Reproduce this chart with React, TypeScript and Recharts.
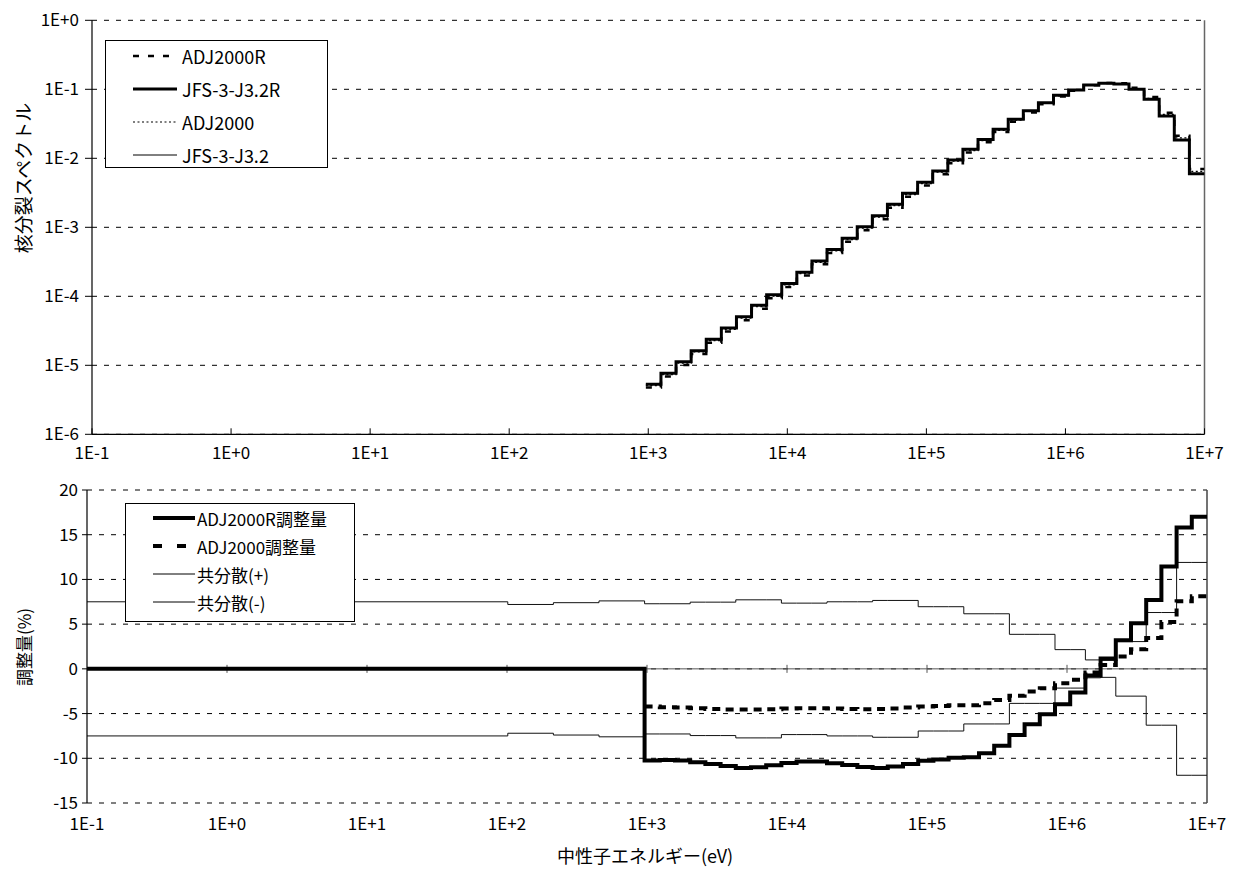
import React from 'react';
import { LineChart, Line, XAxis, YAxis, CartesianGrid, ReferenceLine, Legend, Customized } from 'recharts';

const FONT = "'Noto Sans CJK JP', 'Noto Sans', sans-serif";

// ---------- axis ticks ----------
const X_TICKS = [0.1, 1, 10, 100, 1e3, 1e4, 1e5, 1e6, 1e7];
const X_TICK_LABELS = ['1E-1', '1E+0', '1E+1', '1E+2', '1E+3', '1E+4', '1E+5', '1E+6', '1E+7'];
const TOP_Y_TICKS = [1e-6, 1e-5, 1e-4, 1e-3, 1e-2, 1e-1, 1];
const TOP_Y_TICK_LABELS = ['1E-6', '1E-5', '1E-4', '1E-3', '1E-2', '1E-1', '1E+0'];
const BOT_Y_TICKS = [-15, -10, -5, 0, 5, 10, 15, 20];
const BOT_Y_TICK_LABELS = ['-15', '-10', '-5', '0', '5', '10', '15', '20'];

// ---------- energy group boundaries (eV), increasing ----------
const GROUP_BOUNDS = [
  961.1, 1234.1, 1584.6, 2034.7, 2612.6, 3354.6, 4307.4, 5530.8, 7101.7, 9118.8,
  11709, 15034, 19305, 24788, 31828, 40868, 52475, 67379, 86517, 111090,
  142640, 183160, 235180, 301970, 387740, 497870, 639280, 820850, 1054000, 1353400,
  1737700, 2231300, 2865000, 3678800, 4723700, 6065300, 7788000, 10000000,
];
const LOW_BOUNDS = [0.1, 101.3, 214.5, 454.0];

// ---------- fission spectra (per group, low -> high energy) ----------
const ADJ2000R_SPEC = [
  4.77e-6, 6.88e-6, 1.011e-5, 1.46e-5, 2.127e-5, 3.084e-5, 4.482e-5, 6.613e-5, 9.368e-5, 1.369e-4,
  1.999e-4, 2.913e-4, 4.248e-4, 6.185e-4, 9.081e-4, 1.307e-3, 1.924e-3, 2.779e-3, 4.028e-3, 5.886e-3,
  8.512e-3, 1.216e-2, 1.703e-2, 2.404e-2, 3.399e-2, 4.597e-2, 6.076e-2, 7.856e-2, 9.511e-2, 0.1142,
  0.1234, 0.1228, 0.1051, 7.711e-2, 4.581e-2, 2.131e-2, 6.97e-3,
];
const JFS32R_SPEC = [
  5.31e-6, 7.66e-6, 1.127e-5, 1.63e-5, 2.38e-5, 3.46e-5, 5.04e-5, 7.43e-5, 1.05e-4, 1.53e-4,
  2.23e-4, 3.25e-4, 4.75e-4, 6.93e-4, 1.02e-3, 1.47e-3, 2.16e-3, 3.11e-3, 4.49e-3, 6.55e-3,
  9.45e-3, 1.35e-2, 1.88e-2, 2.63e-2, 3.67e-2, 4.9e-2, 6.4e-2, 8.18e-2, 9.77e-2, 0.115,
  0.122, 0.119, 0.1, 7.16e-2, 4.11e-2, 1.84e-2, 5.96e-3,
];
const ADJ2000_SPEC = [
  5.086e-6, 7.331e-6, 1.078e-5, 1.558e-5, 2.273e-5, 3.303e-5, 4.811e-5, 7.092e-5, 1.003e-4, 1.462e-4,
  2.132e-4, 3.107e-4, 4.539e-4, 6.62e-4, 9.74e-4, 1.404e-3, 2.065e-3, 2.975e-3, 4.301e-3, 6.279e-3,
  9.065e-3, 1.295e-2, 1.808e-2, 2.539e-2, 3.559e-2, 4.776e-2, 6.262e-2, 8.049e-2, 9.65e-2, 0.1145,
  0.1225, 0.1206, 0.1022, 7.407e-2, 4.325e-2, 1.979e-2, 6.445e-3,
];
const JFS32_SPEC = [
  5.31e-6, 7.66e-6, 1.127e-5, 1.63e-5, 2.38e-5, 3.46e-5, 5.04e-5, 7.43e-5, 1.05e-4, 1.53e-4,
  2.23e-4, 3.25e-4, 4.75e-4, 6.93e-4, 1.02e-3, 1.47e-3, 2.16e-3, 3.11e-3, 4.49e-3, 6.55e-3,
  9.45e-3, 1.35e-2, 1.88e-2, 2.63e-2, 3.67e-2, 4.9e-2, 6.4e-2, 8.18e-2, 9.77e-2, 0.115,
  0.122, 0.119, 0.1, 7.16e-2, 4.11e-2, 1.84e-2, 5.96e-3,
];

// ---------- adjustments (%) ----------
const ADJR_LOW = [0, 0, 0, 0];
const ADJR_PCT = [
  -10.26, -10.19, -10.26, -10.45, -10.63, -10.86, -11.08, -11.0, -10.78, -10.52,
  -10.37, -10.37, -10.56, -10.75, -10.97, -11.08, -10.93, -10.65, -10.28, -10.13,
  -9.93, -9.89, -9.44, -8.6, -7.39, -6.19, -5.07, -3.96, -2.65, -0.75,
  1.15, 3.2, 5.1, 7.7, 11.45, 15.8, 17.0,
];
const ADJ_LOW = [null, null, null, null];
const ADJ_PCT = [
  -4.22, -4.29, -4.33, -4.4, -4.48, -4.55, -4.55, -4.55, -4.51, -4.44,
  -4.4, -4.4, -4.44, -4.48, -4.51, -4.48, -4.42, -4.33, -4.22, -4.14,
  -4.07, -4.07, -3.84, -3.47, -3.02, -2.54, -2.16, -1.6, -1.23, -0.4,
  0.43, 1.38, 2.2, 3.45, 5.23, 7.57, 8.13,
];
const COVP_LOW = [7.5, 7.2, 7.4, 7.6];
const COVP_PCT = [
  7.28, 7.28, 7.28, 7.46, 7.46, 7.46, 7.72, 7.72, 7.72, 7.35,
  7.35, 7.35, 7.5, 7.5, 7.5, 7.65, 7.65, 7.65, 6.95, 6.95,
  6.95, 6.16, 6.16, 6.16, 3.86, 3.86, 3.86, 2.15, 2.15, 1.0,
  -0.95, -3.05, -3.05, -6.3, -6.3, -11.9, -11.9,
];
const COVM_LOW = [-7.5, -7.2, -7.4, -7.6];
const COVM_PCT = [
  -7.28, -7.28, -7.28, -7.46, -7.46, -7.46, -7.72, -7.72, -7.72, -7.35,
  -7.35, -7.35, -7.5, -7.5, -7.5, -7.65, -7.65, -7.65, -6.95, -6.95,
  -6.95, -6.16, -6.16, -6.16, -3.86, -3.86, -3.86, -2.15, -2.15, -1.0,
  0.95, 3.05, 3.05, 6.3, 6.3, 11.9, 11.9,
];

// ---------- build rows (step boundaries; last boundary closes the last step) ----------
const pick = (arr: (number | null)[], i: number) => arr[Math.min(i, arr.length - 1)];

const topRows = GROUP_BOUNDS.map((e, i) => ({
  e,
  adjR: pick(ADJ2000R_SPEC, i),
  jfsR: pick(JFS32R_SPEC, i),
  adj: pick(ADJ2000_SPEC, i),
  jfs: pick(JFS32_SPEC, i),
}));

const BOT_E = [...LOW_BOUNDS, ...GROUP_BOUNDS];
const BOT_ADJR = [...ADJR_LOW, ...ADJR_PCT];
const BOT_ADJ = [...ADJ_LOW, ...ADJ_PCT];
const BOT_COVP = [...COVP_LOW, ...COVP_PCT];
const BOT_COVM = [...COVM_LOW, ...COVM_PCT];
const botRows = BOT_E.map((e, i) => ({
  e,
  adjR: pick(BOT_ADJR, i),
  adj: pick(BOT_ADJ, i),
  covP: pick(BOT_COVP, i),
  covM: pick(BOT_COVM, i),
}));

// ---------- series styles ----------
const TOP_SERIES = [
  { key: 'adj', name: 'ADJ2000', width: 1.2, dash: '2 2.5' },
  { key: 'jfs', name: 'JFS-3-J3.2', width: 1, dash: undefined },
  { key: 'adjR', name: 'ADJ2000R', width: 2.5, dash: '6 9' },
  { key: 'jfsR', name: 'JFS-3-J3.2R', width: 3, dash: undefined },
];
const TOP_LEGEND = [
  { name: 'ADJ2000R', width: 2.5, dash: '6 9' },
  { name: 'JFS-3-J3.2R', width: 3, dash: undefined },
  { name: 'ADJ2000', width: 1.2, dash: '2 2.5' },
  { name: 'JFS-3-J3.2', width: 1, dash: undefined },
];
const BOT_SERIES = [
  { key: 'covP', name: '共分散(+)', width: 1, dash: undefined, color: '#111' },
  { key: 'covM', name: '共分散(-)', width: 1, dash: undefined, color: '#111' },
  { key: 'adj', name: 'ADJ2000調整量', width: 4, dash: '8 6', color: '#000' },
  { key: 'adjR', name: 'ADJ2000R調整量', width: 4, dash: undefined, color: '#000' },
];
const BOT_LEGEND = [
  { name: 'ADJ2000R調整量', width: 4, dash: undefined },
  { name: 'ADJ2000調整量', width: 4, dash: '9 15' },
  { name: '共分散(+)', width: 1, dash: undefined },
  { name: '共分散(-)', width: 1, dash: undefined },
];

const labelFor = (ticks: number[], labels: string[]) => (v: number) => {
  const i = ticks.findIndex((t) => Math.abs(t - v) <= Math.abs(t) * 1e-6 + 1e-12);
  return i >= 0 ? labels[i] : String(v);
};

type LegendItem = { name: string; width: number; dash?: string };
function LegendBox(props: {
  items: LegendItem[]; w: number; h: number; rowH: number; padL: number; sampleW: number; gap: number; fontSize: number; shift: number;
}) {
  const { items, w, h, rowH, padL, sampleW, gap, fontSize, shift } = props;
  return (
    <div style={{ width: w, height: h, border: '1px solid #000', background: '#fff', boxSizing: 'border-box', paddingLeft: padL, overflow: 'visible' }}>
      <div style={{ marginTop: shift }}>
        {items.map((it) => (
          <div key={it.name} style={{ height: rowH, display: 'flex', alignItems: 'center' }}>
            <svg width={sampleW} height={10} style={{ display: 'block', flex: 'none' }}>
              <line x1={0} y1={5} x2={sampleW} y2={5} stroke="#000" strokeWidth={it.width} strokeDasharray={it.dash} />
            </svg>
            <span style={{ marginLeft: gap, fontSize, fontFamily: FONT, color: '#000', lineHeight: 1, whiteSpace: 'nowrap' }}>{it.name}</span>
          </div>
        ))}
      </div>
    </div>
  );
}

const TopYTitle = () => (
  <text x={22} y={178} transform="rotate(-90 22 178)" textAnchor="middle" dominantBaseline="central" fontSize={19} fontFamily={FONT} fill="#000">
    核分裂スペクトル
  </text>
);
const BotYTitle = () => (
  <text x={23} y={177} transform="rotate(-90 23 177)" textAnchor="middle" dominantBaseline="central" fontSize={17} fontFamily={FONT} fill="#000">
    調整量(%)
  </text>
);
const BotXTitle = () => (
  <text x={645} y={385} textAnchor="middle" dominantBaseline="central" fontSize={18} fontFamily={FONT} fill="#000">
    中性子エネルギー(eV)
  </text>
);

const tickStyle = { fill: '#000', fontSize: 17, fontFamily: FONT };

export default function App() {
  return (
    <div style={{ position: 'absolute', left: 0, top: 0, width: 1235, height: 870, background: '#fff', fontFamily: FONT }}>
      <div style={{ position: 'absolute', left: 0, top: 0 }}>
        <LineChart width={1235} height={470} data={topRows} margin={{ top: 20.3, right: 30.5, bottom: 5.7, left: 7 }}>
          <CartesianGrid vertical={false} stroke="#000" strokeDasharray="5 7" />
          <XAxis
            dataKey="e" type="number" scale="log" domain={[0.1, 1e7]} allowDataOverflow ticks={X_TICKS} interval={0}
            tickFormatter={labelFor(X_TICKS, X_TICK_LABELS)} height={30} tickSize={-6} tickMargin={19}
            axisLine={{ stroke: '#000', strokeWidth: 1.2 }} tickLine={{ stroke: '#000' }} tick={tickStyle}
          />
          <YAxis
            type="number" scale="log" domain={[1e-6, 1]} allowDataOverflow ticks={TOP_Y_TICKS} interval={0}
            tickFormatter={labelFor(TOP_Y_TICKS, TOP_Y_TICK_LABELS)} width={85} tickSize={7} tickMargin={6}
            axisLine={{ stroke: '#000', strokeWidth: 1.2 }} tickLine={{ stroke: '#000' }} tick={tickStyle}
          />
          <ReferenceLine x={1e7} stroke="#666" strokeWidth={1.5} ifOverflow="extendDomain" />
          {TOP_SERIES.map((s) => (
            <Line
              key={s.key} dataKey={s.key} name={s.name} type="stepAfter" stroke="#000" strokeWidth={s.width}
              strokeDasharray={s.dash} dot={false} activeDot={false} isAnimationActive={false} strokeLinecap="butt"
            />
          ))}
          <Legend
            layout="vertical" align="center" verticalAlign="middle"
            wrapperStyle={{ left: 105, top: 40, width: 223, height: 128 }}
            content={() => (
              <LegendBox items={TOP_LEGEND} w={223} h={128} rowH={33} padL={27} sampleW={44} gap={5} fontSize={18} shift={-2} />
            )}
          />
          <Customized component={TopYTitle} />
        </LineChart>
      </div>
      <div style={{ position: 'absolute', left: 0, top: 470 }}>
        <LineChart width={1235} height={400} data={botRows} margin={{ top: 20, right: 28, bottom: 0, left: 27 }}>
          <CartesianGrid vertical={false} stroke="#000" strokeDasharray="5 7" />
          <XAxis
            dataKey="e" type="number" scale="log" domain={[0.1, 1e7]} allowDataOverflow ticks={X_TICKS} interval={0}
            tickFormatter={labelFor(X_TICKS, X_TICK_LABELS)} height={67} tickSize={6} tickMargin={9}
            axisLine={false} tickLine={false} tick={tickStyle}
          />
          <YAxis
            type="number" domain={[-15, 20]} allowDataOverflow ticks={BOT_Y_TICKS} interval={0}
            tickFormatter={labelFor(BOT_Y_TICKS, BOT_Y_TICK_LABELS)} width={60} tickSize={5} tickMargin={4}
            axisLine={{ stroke: '#000', strokeWidth: 1.2 }} tickLine={{ stroke: '#000' }} tick={tickStyle}
          />
          <ReferenceLine y={0} stroke="#555" strokeWidth={1} />
          {X_TICKS.slice(1, -1).map((t) => (
            <ReferenceLine key={'t' + t} segment={[{ x: t, y: -0.45 }, { x: t, y: 0.45 }]} stroke="#555" strokeWidth={1} />
          ))}
          <ReferenceLine x={1e7} stroke="#444" strokeWidth={1.5} />
          {BOT_SERIES.map((s) => (
            <Line
              key={s.key} dataKey={s.key} name={s.name} type="stepAfter" stroke={s.color} strokeWidth={s.width}
              strokeDasharray={s.dash} dot={false} activeDot={false} isAnimationActive={false} connectNulls={false} strokeLinecap="butt"
            />
          ))}
          <Legend
            layout="vertical" align="center" verticalAlign="middle"
            wrapperStyle={{ left: 125, top: 33, width: 230, height: 119 }}
            content={() => (
              <LegendBox items={BOT_LEGEND} w={230} h={119} rowH={28} padL={27} sampleW={42} gap={2} fontSize={17} shift={0} />
            )}
          />
          <Customized component={BotYTitle} />
          <Customized component={BotXTitle} />
        </LineChart>
      </div>
    </div>
  );
}
